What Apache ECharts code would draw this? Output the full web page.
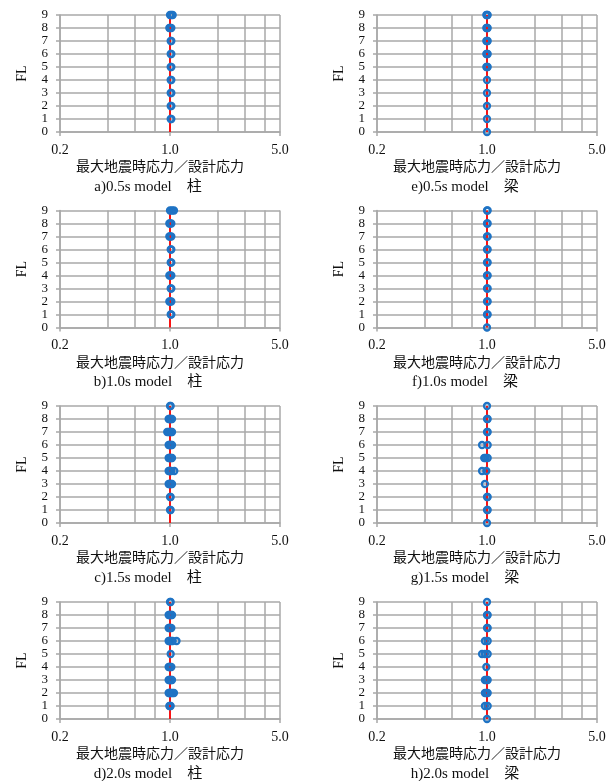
<!DOCTYPE html>
<html><head><meta charset="utf-8">
<script src="https://cdn.jsdelivr.net/npm/echarts@6/dist/echarts.min.js"></script>
<style>html,body{margin:0;padding:0;background:#fff}#c{width:616px;height:781px}</style>
</head><body><div id="c"></div>
<script>
// ---- data (index = floor 0..9), values = max seismic stress / design stress ----
const floors = [0,1,2,3,4,5,6,7,8,9];
const a_col_05 = [[], [1.01,1.02], [1.01,1.02], [1.01,1.02], [1.01,1.02], [1.01,1.02], [1.01,1.02], [1.01,1.02], [0.99,1.0,1.02], [1.0,1.02,1.04]];
const b_col_10 = [[], [1.01,1.02], [0.99,1.0,1.02], [1.01,1.02], [0.99,1.0,1.02], [1.01,1.02], [1.01,1.02], [0.99,1.0,1.02], [0.99,1.0,1.02], [1.0,1.03,1.06]];
const c_col_15 = [[], [1.0,1.01], [1.0,1.01], [0.98,0.99,1.0,1.02,1.03], [0.98,0.99,1.0,1.02,1.065], [0.98,0.99,1.0,1.02,1.03], [0.98,0.99,1.0,1.02,1.03], [0.96,0.98,1.0,1.02,1.03], [0.98,0.99,1.0,1.02,1.03], [1.0,1.01]];
const d_col_20 = [[], [0.99,1.0,1.01], [0.98,0.99,1.0,1.02,1.04,1.06], [0.98,0.99,1.0,1.02,1.03], [0.98,0.99,1.0,1.02], [1.01], [0.98,0.99,1.0,1.02,1.04,1.1], [0.98,0.99,1.0,1.02], [0.98,0.99,1.0,1.02,1.03], [1.0,1.01]];
const e_beam_05 = [[1.0], [1.0], [1.0], [1.0], [1.0], [0.99,1.0,1.01], [0.99,1.0,1.01], [0.99,1.0,1.01], [0.99,1.0,1.01], [0.99,1.0,1.01]];
const f_beam_10 = [[1.0], [1.0,1.01], [1.0,1.01], [1.0,1.01], [1.0,1.01], [1.0,1.01], [1.0,1.01], [1.0,1.01], [1.0,1.01], [1.0,1.01]];
const g_beam_15 = [[1.0], [1.0,1.01], [1.0,1.01], [0.97], [0.93,0.99], [0.96,0.98,1.01], [0.93,1.01], [1.0,1.01], [1.0,1.01], [1.0]];
const h_beam_20 = [[1.0], [0.97,1.01], [0.97,0.99,1.01], [0.97,0.99,1.01], [0.99], [0.93,0.97,1.01], [0.97,1.01], [1.0,1.01], [1.0,1.01], [1.0]];
const refX = [1.0, 1.0];
const refFloors = [0, 9];
const xMajorTicks = [0.2, 1.0, 5.0];
const xMinorGrid = [0.4, 0.6, 0.8, 2, 3, 4];
const xAxisTitle = '最大地震時応力／設計応力';
const yAxisTitle = 'FL';
const captions = ['a)0.5s model　柱','b)1.0s model　柱','c)1.5s model　柱','d)2.0s model　柱',
                  'e)0.5s model　梁','f)1.0s model　梁','g)1.5s model　梁','h)2.0s model　梁'];
const panels = [a_col_05, b_col_10, c_col_15, d_col_20, e_beam_05, f_beam_10, g_beam_15, h_beam_20];

// ---- layout ----
const colLeft = [60, 377];
const rowTop = [15, 210.5, 406, 602];
const plotW = 220, plotH = 117;
const GRID = '#a8a8a8';
const BLUE = '#1f73c4';
const SERIF = '"Liberation Serif", "Noto Sans CJK JP", serif';

const grid = [], xAxis = [], yAxis = [], series = [], graphic = [];
panels.forEach((p, i) => {
  const col = i < 4 ? 0 : 1, row = i % 4;
  const left = colLeft[col], top = rowTop[row];
  grid.push({left: left, top: top, width: plotW, height: plotH, containLabel: false});
  xAxis.push({
    gridIndex: i, type: 'log', logBase: 5, min: xMajorTicks[0], max: xMajorTicks[2],
    axisLine: {show: true, lineStyle: {color: GRID, width: 1.5}},
    axisTick: {show: true, length: 4, lineStyle: {color: GRID, width: 1.5}},
    axisLabel: {color: '#111', fontFamily: SERIF, fontSize: 14, margin: 11,
      formatter: v => Number(v).toFixed(1)},
    splitLine: {show: true, lineStyle: {color: GRID, width: 1.5}},
    minorTick: {show: false}, minorSplitLine: {show: false}
  });
  yAxis.push({
    gridIndex: i, type: 'value', min: floors[0], max: floors[floors.length - 1], interval: 1,
    name: yAxisTitle, nameLocation: 'middle', nameGap: 31, nameRotate: 90,
    nameTextStyle: {color: '#111', fontFamily: SERIF, fontSize: 14},
    axisLine: {show: true, lineStyle: {color: GRID, width: 1.5}},
    axisTick: {show: true, length: 4, lineStyle: {color: GRID, width: 1.5}},
    axisLabel: {color: '#111', fontFamily: SERIF, fontSize: 13, margin: 12},
    splitLine: {show: true, lineStyle: {color: GRID, width: 1.5}}
  });
  // minor vertical grid lines
  series.push({
    type: 'line', xAxisIndex: i, yAxisIndex: i, data: [], silent: true, z: 1,
    markLine: {silent: true, symbol: ['none','none'], label: {show: false},
      lineStyle: {color: GRID, width: 1.5, type: 'solid'},
      data: xMinorGrid.map(v => ({xAxis: v}))}
  });
  // red reference line at ratio 1.0
  series.push({
    type: 'line', xAxisIndex: i, yAxisIndex: i, silent: true, z: 2,
    data: refX.map((x, k) => [x, refFloors[k]]),
    symbol: 'none', lineStyle: {color: '#ff0000', width: 1.8}
  });
  // points
  const pts = [];
  p.forEach((vals, fl) => vals.forEach(v => pts.push([v, floors[fl]])));
  series.push({
    type: 'scatter', xAxisIndex: i, yAxisIndex: i, z: 3, data: pts,
    symbol: 'circle', symbolSize: 6,
    itemStyle: {color: 'rgba(0,0,0,0)', borderColor: BLUE, borderWidth: 2.3, opacity: 1}
  });
  const bottom = top + plotH;
  graphic.push({type: 'text', x: left + 100, y: bottom + 34, silent: true,
    style: {text: xAxisTitle, fill: '#111', font: '14px "Noto Sans CJK JP"',
      textAlign: 'center', textVerticalAlign: 'middle', align: 'center', verticalAlign: 'middle'}});
  graphic.push({type: 'text', x: left + 88, y: bottom + 55, silent: true,
    style: {text: captions[i], fill: '#111', font: '15px ' + SERIF,
      textAlign: 'center', textVerticalAlign: 'middle', align: 'center', verticalAlign: 'middle'}});
});

const chart = echarts.init(document.getElementById('c'), null, {renderer: 'canvas'});
chart.setOption({animation: false, backgroundColor: '#fff', grid, xAxis, yAxis, series, graphic});
</script></body></html>
